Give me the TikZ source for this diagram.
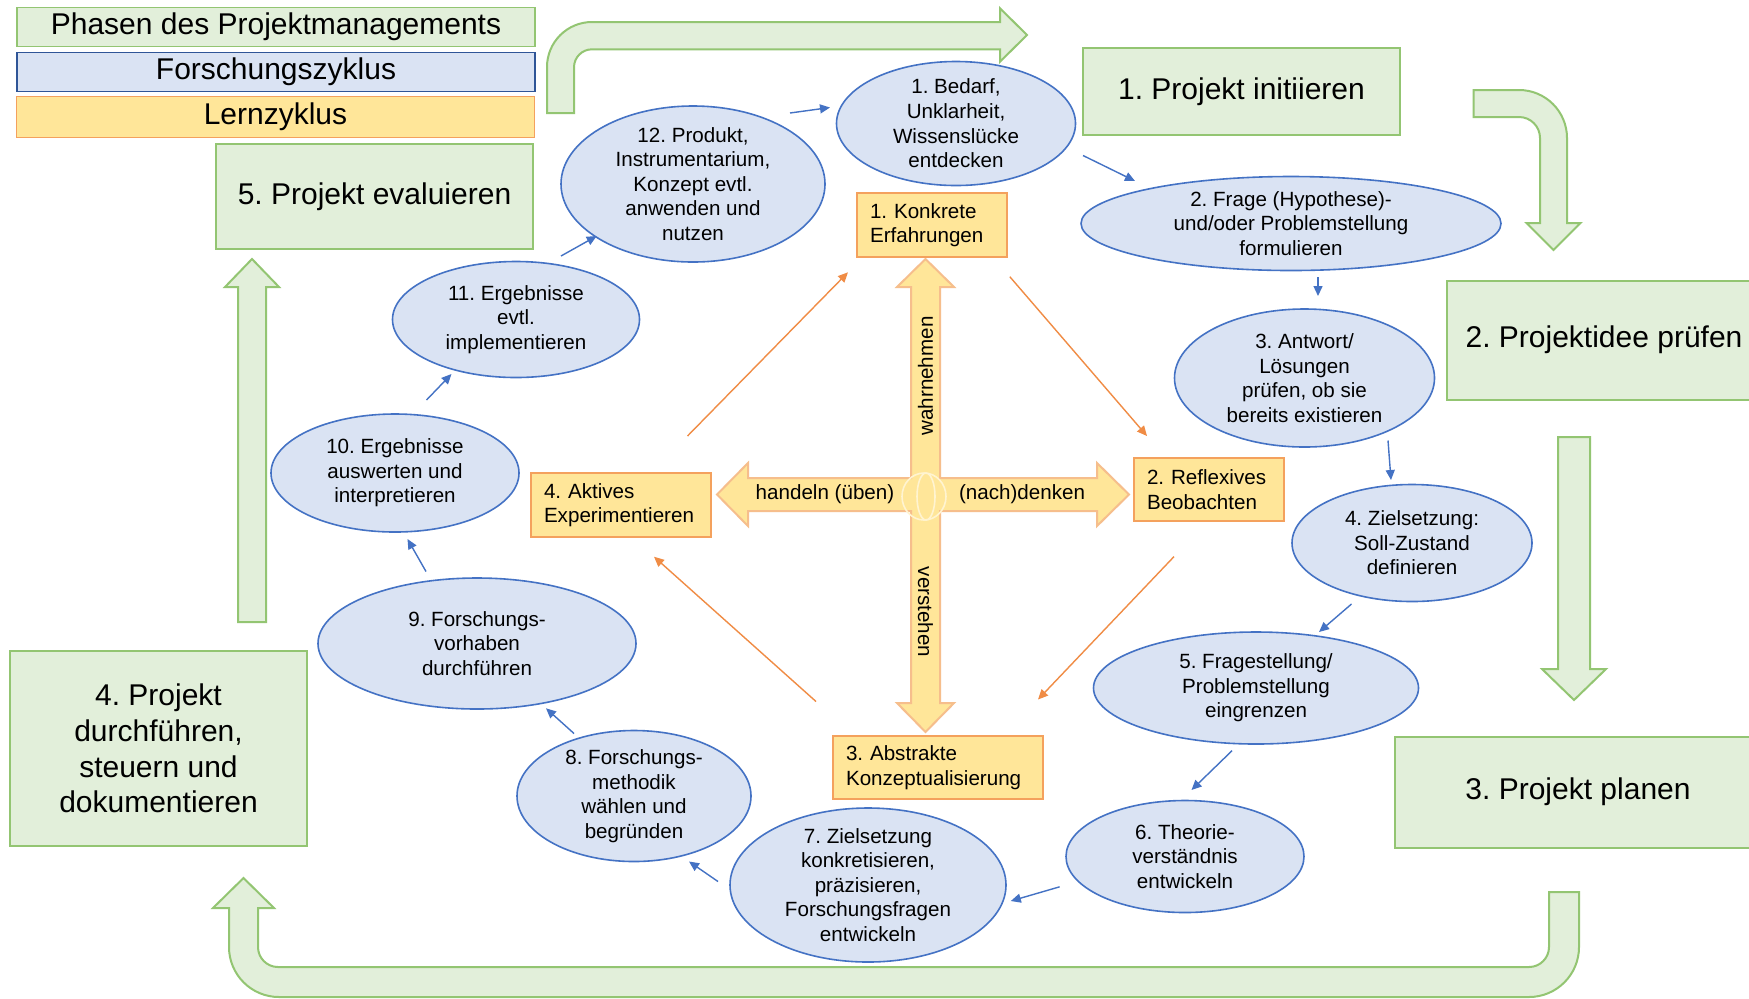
\documentclass[tikz,border=0pt]{standalone}
\usepackage{fontspec}
\setmainfont{Liberation Sans}
\usetikzlibrary{positioning,shapes.geometric,arrows.meta}
\frenchspacing

\definecolor{phasefill}{HTML}{E2EFDA}
\definecolor{phaseline}{HTML}{93C572}
\definecolor{cyclefill}{HTML}{DAE3F3}
\definecolor{cycleline}{HTML}{4472C4}
\definecolor{keyline}{HTML}{2F5597}
\definecolor{learnfill}{HTML}{FFE699}
\definecolor{learnline}{HTML}{F4A15D}
\definecolor{crossline}{HTML}{F6BE8C}
\definecolor{learnarrow}{HTML}{F08C45}

\begin{document}
\begin{tikzpicture}[x=0.5pt,y=-0.5pt,
    phase/.style={rectangle,draw=phaseline,fill=phasefill,line width=1pt,
      inner sep=0pt,align=center,font=\fontsize{15}{17.9}\selectfont},
    key/.style={rectangle,line width=0.9pt,inner sep=0pt,minimum width=259pt,
      minimum height=19.5pt,font=\fontsize{15}{17.9}\selectfont},
    stage/.style={ellipse,draw=cycleline,fill=cyclefill,line width=0.8pt,
      inner xsep=0pt,inner ysep=-4pt,align=center,
      font=\fontsize{10.3}{12.3}\selectfont},
    learn/.style={rectangle,draw=learnline,fill=learnfill,line width=0.8pt,
      inner xsep=6.5pt,inner ysep=0pt,align=left,
      font=\fontsize{10.3}{12.3}\selectfont},
    bigarrow/.style={draw=phaseline,fill=phasefill,line width=1pt},
    crossarrow/.style={draw=crossline,fill=learnfill,line width=1pt},
    flow/.style={draw=cycleline,line width=0.7pt,-{Triangle[length=5pt,width=4.5pt]}},
    learnflow/.style={draw=learnarrow,line width=0.7pt,-{Triangle[length=5pt,width=4.5pt]}},
    cue/.style={inner sep=0pt,font=\fontsize{10.3}{12.3}\selectfont}]
  \useasboundingbox (0,0) rectangle (1749,998);
  \clip (0,0) rectangle (1749,998);
  \fill[white] (0,0) rectangle (1749,998);

  % project phases: big arrows
  \draw[bigarrow] (547,113) -- (547,67) arc[start angle=180,end angle=90,radius=22.5pt]
    -- (1000,22) -- (1000,8.3) -- (1027,35) -- (1000,61.7) -- (1000,49.3)
    -- (592,49.3) arc[start angle=90,end angle=180,radius=9pt] -- (574,113) -- cycle;
  \draw[bigarrow] (1473.5,90) -- (1519,90) arc[start angle=90,end angle=0,radius=24pt]
    -- (1567,223) -- (1580.5,223) -- (1553.5,250) -- (1526.5,223) -- (1540,223)
    -- (1540,138) arc[start angle=0,end angle=90,radius=10.5pt] -- (1473.5,117) -- cycle;
  \draw[bigarrow] (1558,437) -- (1590,437) -- (1590,669) -- (1606,669) -- (1574,700)
    -- (1542,669) -- (1558,669) -- cycle;
  \draw[bigarrow] (1549,892) -- (1579,892) -- (1579,947) arc[start angle=0,end angle=-90,radius=25pt]
    -- (279,997) arc[start angle=-90,end angle=-180,radius=25pt]
    -- (229,908) -- (213,908) -- (243.5,878) -- (274,908) -- (258,908)
    -- (258,947) arc[start angle=180,end angle=270,radius=10pt]
    -- (1529,967) arc[start angle=-90,end angle=0,radius=10pt] -- cycle;
  \draw[bigarrow] (238,622) -- (238,287) -- (225,287) -- (252,259) -- (279,287)
    -- (266,287) -- (266,622) -- cycle;

  % learning cycle: cross
  \draw[crossarrow] (925.5,259) -- (954,287) -- (940,287) -- (940,478) -- (1097,478)
    -- (1097,463) -- (1129,494.5) -- (1097,526) -- (1097,511) -- (940,511)
    -- (940,703) -- (954,703) -- (925.5,732) -- (897,703) -- (911,703)
    -- (911,511) -- (748,511) -- (748,526) -- (717,494.5) -- (748,463)
    -- (748,478) -- (911,478) -- (911,287) -- (897,287) -- cycle;
  \draw[white!55!learnfill,line width=0.8pt] (924,496.5) ellipse [x radius=11pt,y radius=11.75pt];
  \draw[white!55!learnfill,line width=0.8pt] (926,496.5) ellipse [x radius=4.5pt,y radius=11.75pt];

  % legend
  \node (keyphase) at (276,27) [key,draw=phaseline,fill=phasefill] {Phasen des Projektmanagements};
  \node (keyresearch) at (276,72) [key,draw=keyline,fill=cyclefill] {Forschungszyklus};
  \node (keylearn) at (275.5,117) [key,draw=learnline,fill=learnfill,minimum height=20.5pt] {Lernzyklus};

  % phases
  \node (initiate) at (1241.5,91.5) [phase,minimum width=158.5pt,minimum height=43.5pt] {1. Projekt initiieren};
  \node (check) at (1604,340) [phase,minimum width=157pt,minimum height=59.5pt] {2. Projektidee prüfen};
  \node (plan) at (1578,792) [phase,minimum width=183pt,minimum height=55.5pt] {3. Projekt planen};
  \node (run) at (158.5,748.5) [phase,minimum width=148.5pt,minimum height=97.5pt] {4. Projekt\\durchführen,\\steuern und\\dokumentieren};
  \node (evaluate) at (374.5,196.5) [phase,minimum width=158.5pt,minimum height=52.5pt] {5. Projekt evaluieren};

  % learning cycle
  \node (concrete) at (932,225) [learn,text width=62pt,minimum height=32pt] {1. Konkrete\\Erfahrungen};
  \node (reflect) at (1209,489.5) [learn,text width=62pt,minimum height=31.5pt] {2. Reflexives\\Beobachten};
  \node (abstract) at (938,767.5) [learn,text width=92pt,minimum height=31.5pt] {3. Abstrakte\\Konzeptualisierung};
  \node (active) at (621,505) [learn,text width=77pt,minimum height=32pt] {4. Aktives\\Experimentieren};
  \node (perceive) at (925.5,376) [cue,rotate=90] {wahrnehmen};
  \node (understand) at (925.5,612) [cue,rotate=-90] {verstehen};
  \node (act) at (825,494.5) [cue] {handeln (üben)};
  \node (think) at (1022,494.5) [cue] {(nach)denken};

  % research cycle
  \node (need) at (956,123.5) [stage,minimum width=119.5pt,minimum height=62pt] {1. Bedarf,\\Unklarheit,\\Wissenslücke\\entdecken};
  \node (question) at (1291,223.5) [stage,minimum width=210pt,minimum height=47pt] {2. Frage (Hypothese)-\\und/oder Problemstellung\\formulieren};
  \node (answer) at (1304.5,378) [stage,minimum width=130pt,minimum height=69pt] {3. Antwort/\\Lösungen\\prüfen, ob sie\\bereits existieren};
  \node (goal) at (1412,543) [stage,minimum width=120pt,minimum height=58.5pt] {4. Zielsetzung:\\Soll-Zustand\\definieren};
  \node (scope) at (1256,688) [stage,minimum width=162.5pt,minimum height=56pt] {5. Fragestellung/\\Problemstellung\\eingrenzen};
  \node (theory) at (1185,856.5) [stage,minimum width=119pt,minimum height=56pt] {6. Theorie-\\verständnis\\entwickeln};
  \node (refine) at (868,885) [stage,minimum width=138pt,minimum height=77pt] {7. Zielsetzung\\konkretisieren,\\präzisieren,\\Forschungsfragen\\entwickeln};
  \node (method) at (634,796) [stage,minimum width=117pt,minimum height=65.5pt] {8. Forschungs-\\methodik\\wählen und\\begründen};
  \node (conduct) at (477,643.5) [stage,minimum width=159pt,minimum height=65.5pt] {9. Forschungs-\\vorhaben\\durchführen};
  \node (analyse) at (395,473) [stage,minimum width=124pt,minimum height=59pt] {10. Ergebnisse\\auswerten und\\interpretieren};
  \node (implement) at (516,319.5) [stage,minimum width=123.5pt,minimum height=58pt] {11. Ergebnisse\\evtl.\\implementieren};
  \node (product) at (693,184) [stage,minimum width=132pt,minimum height=78pt] {12. Produkt,\\Instrumentarium,\\Konzept evtl.\\anwenden und\\nutzen};

  % connector ends
  \coordinate (s1) at (790,113);      \coordinate (t1) at (830,107.5);
  \coordinate (s2) at (1083,155.5);   \coordinate (t2) at (1135,181);
  \coordinate (s3) at (1318,277);     \coordinate (t3) at (1318,296);
  \coordinate (s4) at (1388,440.5);   \coordinate (t4) at (1391,480);
  \coordinate (s5) at (1351.5,604);   \coordinate (t5) at (1319,632);
  \coordinate (s6) at (1232,750.7);   \coordinate (t6) at (1191.5,790);
  \coordinate (s7) at (1059.6,886.8); \coordinate (t7) at (1010.8,901);
  \coordinate (s8) at (718,881.5);    \coordinate (t8) at (689,861.5);
  \coordinate (s9) at (574,733.5);    \coordinate (t9) at (546,708.3);
  \coordinate (s10) at (426,571.5);   \coordinate (t10) at (407.5,539);
  \coordinate (s11) at (426.5,400);   \coordinate (t11) at (451.5,374);
  \coordinate (s12) at (561,256);     \coordinate (t12) at (596.7,236);
  \coordinate (u1) at (687.5,436);    \coordinate (v1) at (848,272.3);
  \coordinate (u2) at (1009.8,276.7); \coordinate (v2) at (1147,436);
  \coordinate (u3) at (1174,556.6);   \coordinate (v3) at (1038,699.5);
  \coordinate (u4) at (816,701.5);    \coordinate (v4) at (654,556.7);

  \foreach \i in {1,...,12}
    \draw[flow] (s\i) -- (t\i);
  \foreach \i in {1,...,4}
    \draw[learnflow] (u\i) -- (v\i);
\end{tikzpicture}
\end{document}
